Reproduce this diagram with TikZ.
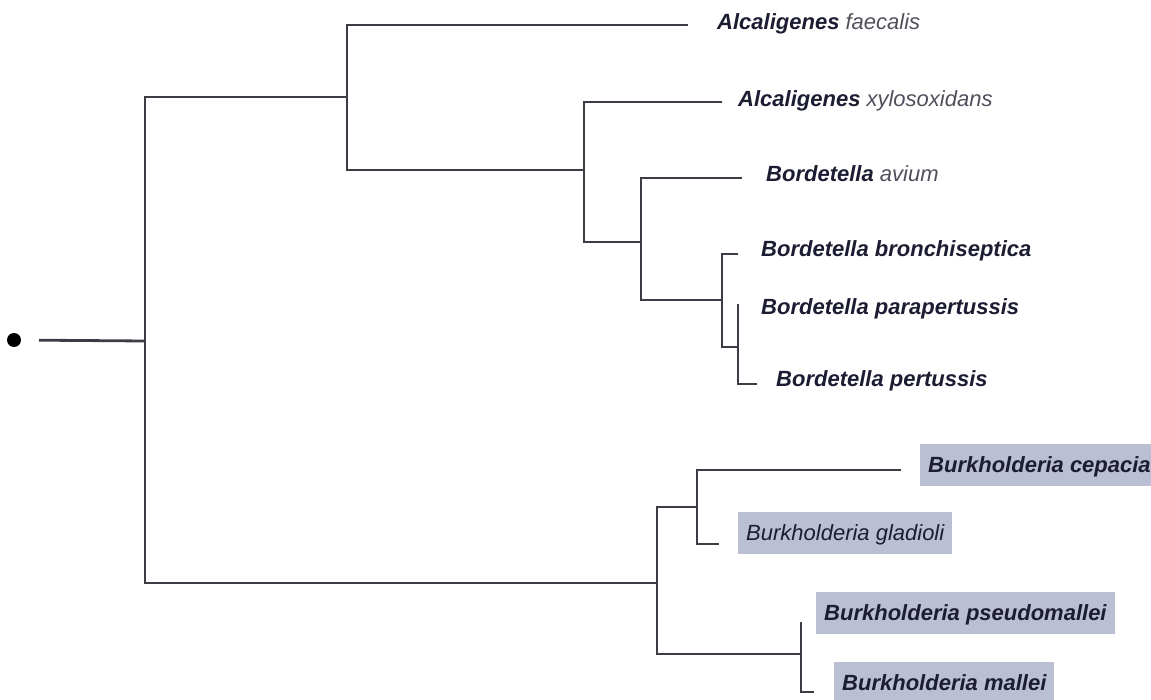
\documentclass[tikz,border=0pt]{standalone}
\usepackage{fontspec}
\setmainfont{Liberation Sans}
\definecolor{branch}{HTML}{3C3C44}
\definecolor{ink}{HTML}{1C1C32}
\definecolor{softink}{HTML}{50505C}
\definecolor{hilite}{HTML}{BBBFD3}
\begin{document}
\begin{tikzpicture}[x=1pt,y=-1pt,
  tree/.style={draw=branch,line width=2.8pt},
  leaf/.style={anchor=base west,inner sep=0pt,text=ink,font=\fontsize{22}{24}\selectfont\itshape},
  hleaf/.style={anchor=base west,inner xsep=8pt,inner ysep=10pt,text height=18pt,text depth=4pt,
     fill=hilite,text=ink,font=\fontsize{22}{24}\selectfont\itshape}]
\useasboundingbox (0,0) rectangle (1151,700);
\clip (0,0) rectangle (1151,700);
% root dot
\node[circle,fill=black,minimum size=14pt,inner sep=0pt] (dot) at (14,340) {};
% internal nodes
\coordinate (r0) at (145,341);
\coordinate (A) at (347,97);
\coordinate (B) at (584,170);
\coordinate (C) at (641,242);
\coordinate (D) at (722,300);
\coordinate (E) at (738,347);
\coordinate (F) at (657,583);
\coordinate (G) at (697,507);
\coordinate (H) at (801,654);
% leaf tips
\coordinate (tAf) at (688,25);
\coordinate (tAx) at (722,102);
\coordinate (tBa) at (742,178);
\coordinate (tBb) at (738,254);
\coordinate (tBpp) at (738,304);
\coordinate (tBp) at (757,384);
\coordinate (tBc) at (901,470);
\coordinate (tBg) at (719,544);
\coordinate (tBps) at (801,622);
\coordinate (tBm) at (814,692);
% labels
\node[leaf] (Af) at (717,30) {\textbf{Alcaligenes} \textcolor{softink}{faecalis}};
\node[leaf] (Ax) at (738,107) {\textbf{Alcaligenes} \textcolor{softink}{xylosoxidans}};
\node[leaf] (Ba) at (766,182) {\textbf{Bordetella} \textcolor{softink}{avium}};
\node[leaf] (Bb) at (761,257) {\textbf{Bordetella bronchiseptica}};
\node[leaf] (Bpp) at (761,315) {\textbf{Bordetella parapertussis}};
\node[leaf] (Bp) at (776,387) {\textbf{Bordetella pertussis}};
\node[hleaf] (Bc) at (920,472) {\textbf{Burkholderia cepacia}};
\node[hleaf] (Bg) at (738,540) {Burkholderia gladioli};
\node[hleaf] (Bps) at (816,620) {\textbf{Burkholderia pseudomallei}};
\node[hleaf] (Bm) at (834,690) {\textbf{Burkholderia mallei}};
% branches
\draw[tree,shorten <=25pt] (dot.center) -- (r0);
\draw[tree] (A) -| (r0) |- (F);
\draw[tree] (tAf) -| (A) |- (B);
\draw[tree] (tAx) -| (B) |- (C);
\draw[tree] (tBa) -| (C) |- (D);
\draw[tree] (tBb) -| (D) |- (E);
\draw[tree] (tBpp) -- (E) |- (tBp);
\draw[tree] (G) -| (F) |- (H);
\draw[tree] (tBc) -| (G) |- (tBg);
\draw[tree] (tBps) -- (H) |- (tBm);
\end{tikzpicture}
\end{document}
